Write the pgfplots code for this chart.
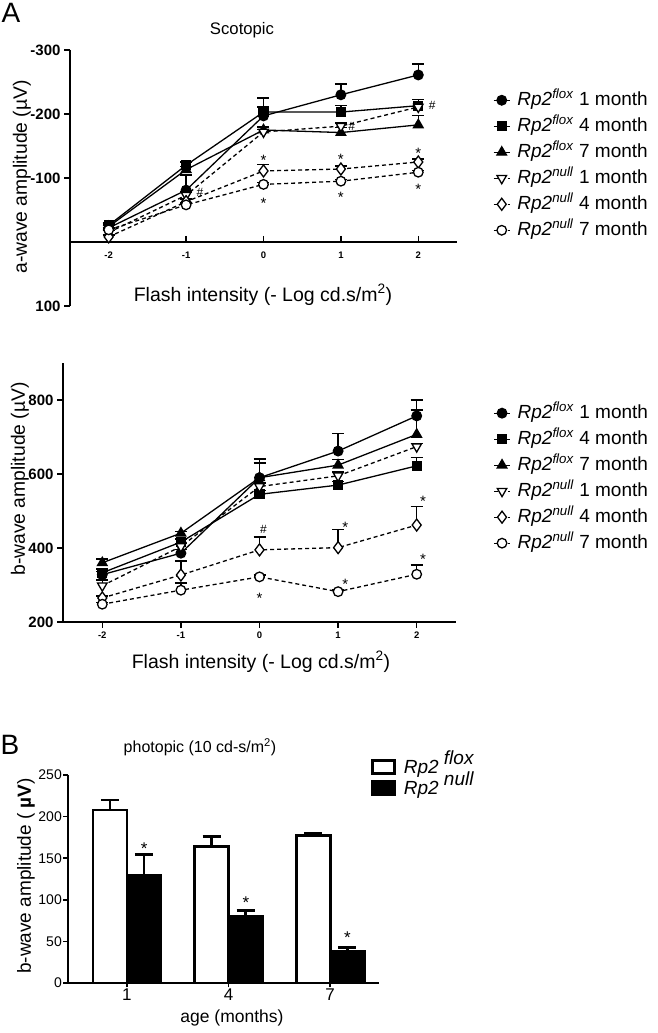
\documentclass[border=0pt]{standalone}
\usepackage{pgfplots}
\pgfplotsset{compat=1.18}
\usepackage{fontspec}
\setmainfont{Liberation Sans}
\newcommand{\fs}[1]{\fontsize{#1}{#1}\selectfont}
\pgfplotsset{
  erg/.style={
    scale only axis, clip=false,
    xmin=-2.5, xmax=2.5, xtick={-2,-1,0,1,2},
    tick align=outside,
    /pgf/number format/assume math mode=true,
    x tick label style={font=\bfseries\fs{9.5}},
    y tick label style={font=\bfseries\fs{15}},
    major tick length=6pt,
    every tick/.style={line width=1.5pt, black},
    axis line style={line width=1.8pt},
    legend cell align=left,
    legend style={draw=none, fill=none, font=\fs{19}, anchor=north west,
      nodes={text height=15pt, text depth=5pt, inner sep=3pt},
      /tikz/every odd column/.append style={column sep=4pt}},
    legend image code/.code={\draw[mark repeat=2,mark phase=2,##1] plot coordinates {(0pt,0pt) (8pt,0pt) (16pt,0pt)};},
  },
  fl/.style={black, line width=1.3pt, mark options={solid, fill=black}},
  nu/.style={black, line width=1.3pt, dash pattern=on 4pt off 3pt, mark options={solid, fill=white, line width=1.3pt}},
  nurot/.style={black, line width=1.3pt, dash pattern=on 4pt off 3pt, mark options={solid, fill=white, line width=1.3pt, rotate=180}},
  eb/.style={error bars/.cd, y dir=#1, y explicit,
    error bar style={solid, line width=1.5pt},
    error mark options={rotate=90, mark size=6pt, line width=1.5pt, solid}},
}
\begin{document}
\begin{tikzpicture}[x=1pt,y=1pt]
\useasboundingbox (0,0) rectangle (658,1033);

% ---------------- Panel A, a-wave ----------------
\node[font=\fs{28}] at (11,1020) {A};
\node[font=\fs{16.7}] at (242,1003) {Scotopic};
\node[font=\fs{19.3}, rotate=90] at (22,856) {a-wave amplitude (µV)};
\node[font=\fs{19.5}] at (263,738) {Flash intensity (- Log cd.s/m\textsuperscript{2})};

\begin{axis}[erg, at={(70pt,727pt)}, anchor=south west, width=387pt, height=256pt,
  y dir=reverse, ymin=-300, ymax=100, ytick={-300,-200,-100,100},
  axis x line*=middle, axis y line*=left,
  legend style={at={(axis description cs:1.085,0.863)}}]
\addplot[fl, mark=*, mark size=4.8pt, eb=minus] table[x=x,y=y,y error=e] {
x y e
-2 -22 4
-1 -81 24
0 -197 28
1 -230 17
2 -261 17
};
\addplot[fl, mark=square*, mark size=4.5pt, eb=minus] table[x=x,y=y,y error=e] {
x y e
-2 -26 4
-1 -120 5
0 -203 8
1 -203 10
2 -213 10
};
\addplot[fl, mark=triangle*, mark size=5.5pt, eb=minus] table[x=x,y=y,y error=e] {
x y e
-2 -24 4
-1 -113 5
0 -175 5
1 -171 8
2 -183 15
};
\addplot[nurot, mark=triangle*, mark size=5.5pt, eb=minus] table[x=x,y=y,y error=e] {
x y e
-2 -15 3
-1 -73 5
0 -172 4
1 -181 5
2 -211 12
};
\addplot[nu, mark=diamond*, mark size=6pt, eb=minus] table[x=x,y=y,y error=e] {
x y e
-2 -8 3
-1 -63 4
0 -111 10
1 -114 5
2 -125 5
};
\addplot[nu, mark=*, mark size=4.8pt, eb=minus] table[x=x,y=y,y error=e] {
x y e
-2 -19 3
-1 -58 3
0 -90 3
1 -95 3
2 -109 3
};
\legend{\textit{Rp2}\textsuperscript{\textit{flox}} 1 month,
        \textit{Rp2}\textsuperscript{\textit{flox}} 4 month,
        \textit{Rp2}\textsuperscript{\textit{flox}} 7 month,
        \textit{Rp2}\textsuperscript{\textit{null}} 1 month,
        \textit{Rp2}\textsuperscript{\textit{null}} 4 month,
        \textit{Rp2}\textsuperscript{\textit{null}} 7 month}
\node[font=\fs{12}] at (axis cs:-0.82,-78) {\#};
\node[font=\fs{12}] at (axis cs:1.14,-180) {\#};
\node[font=\fs{12}] at (axis cs:2.18,-213) {\#};
\node[font=\fs{15}] at (axis cs:0,-128) {*};
\node[font=\fs{15}] at (axis cs:0,-61) {*};
\node[font=\fs{15}] at (axis cs:1,-129) {*};
\node[font=\fs{15}] at (axis cs:1,-70) {*};
\node[font=\fs{15}] at (axis cs:2,-139) {*};
\node[font=\fs{15}] at (axis cs:2,-82) {*};
\end{axis}

% ---------------- Panel A, b-wave ----------------
\node[font=\fs{19.3}, rotate=90] at (20,554) {b-wave amplitude (µV)};
\node[font=\fs{19.5}] at (261,371) {Flash intensity (- Log cd.s/m\textsuperscript{2})};

\begin{axis}[erg, at={(63pt,411pt)}, anchor=south west, width=393pt, height=259pt,
  ymin=200, ymax=900, ytick={200,400,600,800},
  axis lines*=left,
  legend style={at={(axis description cs:1.087,0.865)}}]
\addplot[fl, mark=*, mark size=4.8pt, eb=plus] table[x=x,y=y,y error=e] {
x y e
-2 328 8
-1 386 10
0 590 50
1 662 48
2 757 43
};
\addplot[fl, mark=square*, mark size=4.5pt, eb=plus] table[x=x,y=y,y error=e] {
x y e
-2 333 10
-1 416 8
0 545 10
1 570 10
2 622 23
};
\addplot[fl, mark=triangle*, mark size=5.5pt, eb=plus] table[x=x,y=y,y error=e] {
x y e
-2 360 10
-1 440 5
0 590 40
1 624 15
2 707 66
};
\addplot[nurot, mark=triangle*, mark size=5.5pt, eb=plus] table[x=x,y=y,y error=e] {
x y e
-2 298 15
-1 404 8
0 566 10
1 595 10
2 674 8
};
\addplot[nu, mark=diamond*, mark size=6pt, eb=plus] table[x=x,y=y,y error=e] {
x y e
-2 265 5
-1 327 38
0 395 35
1 401 49
2 462 50
};
\addplot[nu, mark=*, mark size=4.8pt, eb=plus] table[x=x,y=y,y error=e] {
x y e
-2 248 5
-1 286 19
0 322 5
1 282 5
2 329 25
};
\legend{\textit{Rp2}\textsuperscript{\textit{flox}} 1 month,
        \textit{Rp2}\textsuperscript{\textit{flox}} 4 month,
        \textit{Rp2}\textsuperscript{\textit{flox}} 7 month,
        \textit{Rp2}\textsuperscript{\textit{null}} 1 month,
        \textit{Rp2}\textsuperscript{\textit{null}} 4 month,
        \textit{Rp2}\textsuperscript{\textit{null}} 7 month}
\node[font=\fs{12}] at (axis cs:0.05,451) {\#};
\node[font=\fs{15}] at (axis cs:0,265) {*};
\node[font=\fs{15}] at (axis cs:1.09,457) {*};
\node[font=\fs{15}] at (axis cs:1.09,303) {*};
\node[font=\fs{15}] at (axis cs:2.08,527) {*};
\node[font=\fs{15}] at (axis cs:2.08,368) {*};
\end{axis}

% ---------------- Panel B ----------------
\node[font=\fs{28}] at (10,288) {B};
\node[font=\fs{16}] at (200,286) {photopic (10 cd-s/m\textsuperscript{2})};
\node[font=\fs{19}, rotate=90] at (26,157) {b-wave amplitude ( \textbf{µV})};
\node[font=\fs{17.5}] at (232,15) {age (months)};

\begin{axis}[at={(68pt,50pt)}, anchor=south west, scale only axis, width=311pt, height=208pt,
  clip=false, ybar=0pt, bar width=34pt,
  ymin=0, ymax=250, ytick={0,50,...,250},
  xmin=-0.58, xmax=2.48, xtick={0,1,2}, xticklabels={1,4,7},
  axis lines*=left, tick align=outside,
  /pgf/number format/assume math mode=true,
  y tick label style={font=\fs{14}, inner sep=1.5pt},
  x tick label style={font=\fs{17}, inner sep=1pt},
  major tick length=4.5pt,
  every tick/.style={line width=1.5pt, black},
  axis line style={line width=1.8pt},
  legend cell align=left,
  legend style={draw=none, fill=none, font=\fs{19}, anchor=north west,
    at={(axis description cs:0.965,1.096)},
    nodes={text height=14pt, text depth=3pt, inner sep=2pt},
    /tikz/every odd column/.append style={column sep=6pt}},
  legend image code/.code={\draw[#1, line width=2.5pt] (1pt,-6pt) rectangle (23pt,7pt);},
  ]
\addplot[fill=white, draw=black, line width=2.8pt,
  error bars/.cd, y dir=plus, y explicit,
  error bar style={line width=2.8pt},
  error mark options={rotate=90, mark size=9pt, line width=2.8pt}]
  coordinates {(0,208) +- (0,12) (1,164) +- (0,12) (2,177) +- (0,3)};
\addplot[fill=black, draw=black, line width=2.8pt,
  error bars/.cd, y dir=plus, y explicit,
  error bar style={line width=2.8pt},
  error mark options={rotate=90, mark size=9pt, line width=2.8pt}]
  coordinates {(0,129) +- (0,25) (1,79.5) +- (0,8) (2,38.5) +- (0,4.5)};
\legend{\textit{Rp2} \raisebox{9pt}{\textit{flox}}, \textit{Rp2} \raisebox{9pt}{\textit{null}}}
\node[font=\fs{17}] at (axis cs:0.17,162) {*};
\node[font=\fs{17}] at (axis cs:1.17,97) {*};
\node[font=\fs{17}] at (axis cs:2.17,54) {*};
\end{axis}
\end{tikzpicture}
\end{document}
